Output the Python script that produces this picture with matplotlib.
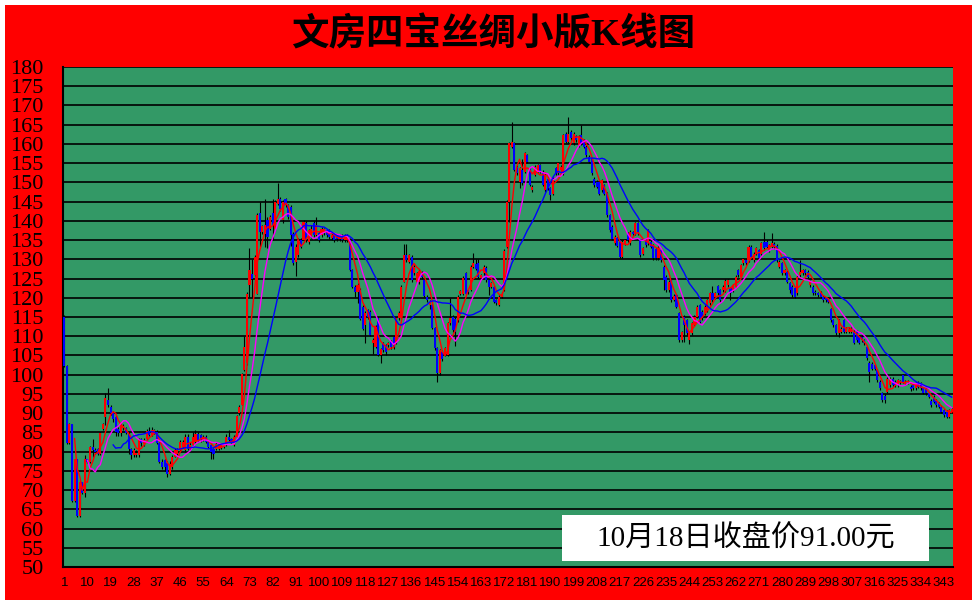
import numpy as np
import pandas as pd
import matplotlib.pyplot as plt
from matplotlib.patches import Rectangle

# Daily prices (346 trading days)
opens = [
    115, 102.3, 82.3, 87.2, 67.2, 78, 63.3, 72.2, 69.3, 78,
    77.4, 81.3, 80.5, 80.8, 79.3, 85.8, 88.9, 93.3, 91.7, 90,
    89, 85.8, 84.8, 86.1, 86.2, 84.7, 80.6, 79.1, 79.1, 79,
    83.2, 81.9, 83.3, 85.3, 84.3, 84.7, 85, 82.2, 77.4, 77.8,
    77, 74.3, 76.1, 78.7, 79.5, 80.4, 81.3, 80.4, 83.9, 80.8,
    81.7, 82.6, 84.7, 84.2, 83, 83.9, 82.6, 81.7, 80.8, 80.8,
    80.8, 81.1, 81.3, 81.7, 83.9, 83.2, 81.7, 83.9, 90, 92.1,
    101.2, 103, 123.3, 126.1, 125.9, 121.1, 142, 137.2, 136.7, 140.2,
    138, 142, 138, 144.5, 145.8, 140.2, 145.6, 144.1, 143.7, 136.6,
    129.4, 131.1, 135, 135, 139.4, 134.6, 136, 139.4, 136.3, 136.8,
    136.3, 136.8, 137.6, 137.6, 135.5, 136.3, 136, 135.2, 136, 135,
    135, 135, 127.2, 122.9, 121.6, 122, 117.7, 112.9, 116.8, 116.4,
    108.2, 107.3, 114.7, 105.1, 108.2, 107.7, 107.7, 108.6, 109.7, 108.2,
    114.7, 114.7, 124.2, 131.1, 129.4, 130.7, 126.4, 124.2, 124, 126.5,
    124.6, 120.3, 118, 118.1, 112.1, 106.9, 100.4, 106, 105.1, 105.1,
    113.4, 115.1, 114.5, 114.2, 121, 121.1, 126.4, 122, 122, 128.1,
    128.7, 129, 125.1, 126.4, 127.8, 124.6, 122.9, 122.9, 119.4, 118.1,
    120.3, 122, 133.3, 145, 159.3, 160.2, 154, 150.2, 153.2, 152.8,
    157.1, 153.7, 148, 152, 153, 154.5, 152.8, 148, 151, 148.5,
    147, 153.7, 152.4, 153.1, 152.4, 162.7, 160.6, 163.2, 160.2, 162,
    159.7, 162.3, 161, 159.3, 156.7, 156, 151, 150.2, 150.2, 148,
    149.3, 147.2, 141.5, 138.5, 134.2, 135.5, 135, 130.7, 134, 136.8,
    134.2, 137, 136.8, 139.4, 135, 131.5, 135, 134.2, 134.6, 133.7,
    132.6, 130.3, 132.4, 128.1, 125.5, 122, 124.6, 119.5, 120.7, 116,
    109, 115, 114.2, 109, 110.8, 113, 115.1, 118.1, 116.4, 116,
    116.8, 118.6, 121.2, 120.1, 123, 122, 122, 122, 123.3, 122.5,
    122, 122.9, 127.2, 125.5, 129, 129.8, 129.8, 133.3, 129.8, 131.5,
    132.4, 131.5, 134.6, 134.6, 132.4, 133.3, 134, 133.5, 128.1, 129,
    126.4, 126.8, 123.8, 122.9, 122.5, 121.2, 125.9, 126.4, 127.2, 126.8,
    123.3, 122.9, 121.6, 121.2, 121.3, 120.3, 119.9, 119.9, 117, 114.2,
    112.9, 110.8, 111.2, 114.2, 111.2, 111.2, 111.2, 111.2, 111.2, 109.9,
    109.9, 109, 107.1, 103.1, 102.9, 102.5, 101.2, 98.2, 95.2, 94.5,
    95.6, 97.3, 99, 98.2, 97.3, 98, 99.9, 97.6, 98, 96.9,
    97.3, 96.5, 97.9, 97.8, 96.5, 96.5, 95.2, 93.2, 94.3, 93.2,
    92.6, 91.7, 90.8, 90.4, 89.1, 90.4,
]
closes = [
    102.3, 82.3, 87.2, 67.2, 78, 63.3, 72.2, 69.3, 78, 77.4,
    81.3, 80.5, 80, 79.3, 84.8, 87.2, 93.9, 92.2, 90, 88.5,
    85.2, 84.8, 87, 86.6, 84.8, 80.6, 79.1, 80.4, 79.7, 83,
    82.2, 83, 85.4, 84.3, 85.6, 85.6, 82.2, 77.4, 76.1, 76.1,
    74.3, 76.9, 78.7, 80.4, 80.4, 82.6, 82.6, 83.9, 80.8, 81.7,
    83.9, 84.7, 83, 83, 83.9, 82.6, 81.3, 80, 79.5, 82.1,
    82, 81.7, 81.7, 83.9, 83, 82.6, 83.9, 89.3, 91.7, 100.2,
    107.3, 121.1, 127.2, 125, 130.7, 141.5, 137.2, 138.6, 138.9, 135.9,
    141.1, 138.9, 145, 145.8, 143.2, 145, 144.1, 141.1, 136.3, 129.1,
    133.3, 135, 133.3, 139.8, 135, 137.6, 138, 136.3, 138.9, 135,
    138, 137.8, 136.3, 135.9, 136.3, 135, 135.2, 136, 135, 136,
    136, 127.2, 122.9, 121.6, 123.3, 114.6, 112, 116, 115, 110.3,
    109.1, 112.5, 105.1, 106.6, 106.4, 106, 108.2, 107.3, 107.3, 114.7,
    116, 122.9, 131.1, 129.8, 131.1, 124.6, 128, 126.4, 127, 125.5,
    120.5, 119.4, 119, 112.1, 106.9, 100.4, 106.4, 104, 106.9, 113.4,
    114.7, 111.6, 111, 120.3, 121.7, 125.2, 121.1, 121.4, 128.1, 129,
    127.6, 125.5, 125.8, 128.1, 124.6, 122.9, 123.8, 119, 118.6, 120.3,
    121.1, 132.2, 145, 160.2, 160.6, 153.2, 152.4, 153.7, 149.8, 157.6,
    155.4, 149.3, 148.9, 154.1, 154.5, 152.8, 149.3, 151.9, 148.5, 146.7,
    151, 152.4, 155, 154, 162.3, 160.6, 162.7, 161.5, 162.7, 161,
    161.9, 160.2, 159.3, 157.1, 155.4, 152.4, 149.3, 148.9, 147.1, 150.6,
    147.1, 141.5, 137.6, 135.4, 135.9, 133.5, 130.7, 134.6, 135, 135,
    137.2, 136.5, 139.4, 136.8, 131.1, 132.9, 133.7, 137.6, 133.3, 130.3,
    130.3, 133, 129.8, 124.6, 122, 124.2, 119.4, 120.5, 117.7, 109,
    111, 112.9, 110.8, 110.8, 113.4, 115, 117.7, 113.8, 114.7, 117.7,
    119.4, 121.2, 119.4, 121.2, 121.2, 119.4, 122.9, 124.4, 124.6, 121.2,
    123.3, 125.5, 125.9, 128.5, 130, 129, 133.3, 130.7, 131.5, 132.9,
    130.3, 134.2, 132.9, 133.3, 133.7, 134.2, 133.2, 129.8, 129.4, 126.4,
    127.2, 124.2, 122, 120.7, 120.3, 125.5, 126.8, 127.2, 126.4, 125.5,
    124.2, 121.2, 121.2, 120.7, 120.3, 119.4, 119.4, 119, 114.2, 112.9,
    110.8, 114.2, 112, 111.2, 112, 112, 112, 108.3, 109, 108.3,
    109, 108.2, 104.3, 100.8, 101.6, 101.6, 98.6, 96.5, 93.4, 93.4,
    99, 99, 97.3, 97.3, 98.6, 98.2, 98.2, 98.2, 98.2, 96.2,
    96.5, 97.8, 96.9, 96.5, 95.3, 95.2, 94.3, 92.1, 93, 92.1,
    91.7, 90.4, 89.5, 89.1, 90.8, 91,
]
highs = [
    115.5, 102.5, 87.5, 87.2, 78, 78, 72.5, 72.2, 79, 78.2,
    81.5, 83.2, 81, 81, 85, 87.5, 95.2, 96.5, 92, 90.5,
    89.5, 86.5, 87.5, 87.3, 86.5, 85, 81, 81, 80.5, 83.5,
    83.5, 83.5, 86, 86.5, 86.5, 86, 85.5, 82.5, 78, 78,
    77.5, 77.5, 79, 81, 81, 83, 83, 84.5, 84.5, 82.5,
    85.2, 85.5, 85, 84.5, 84.3, 84.2, 83, 82, 81, 82.5,
    82.3, 82, 82, 84.5, 85.5, 83.5, 84.2, 89.5, 92, 100.5,
    110, 121.5, 133, 130, 131, 142, 145, 139, 145.8, 141,
    141.5, 145.8, 145.5, 149.9, 146.2, 145.5, 146, 144.5, 144, 137,
    134, 135.5, 135.5, 140.2, 140, 138, 139, 140, 141, 137.2,
    138.5, 138.2, 138, 138, 136.8, 136.8, 136.5, 136.5, 136.5, 136.5,
    136.5, 135.5, 127.5, 123.2, 123.8, 122.5, 118, 116.5, 117.2, 116.8,
    109.5, 113, 115, 107, 108.6, 108, 108.6, 109, 110, 115,
    116.5, 123.3, 134, 134, 131.5, 131.2, 128.5, 126.8, 127.5, 127,
    125, 120.8, 119.4, 118.5, 112.5, 107.2, 106.8, 106.5, 107.3, 113.8,
    119.9, 115.5, 115, 120.6, 122, 125.6, 126.8, 122.3, 128.5, 131.6,
    130, 130, 126.2, 128.5, 128.2, 125, 124.2, 123.2, 119.8, 120.6,
    121.5, 132.6, 145.3, 160.5, 165.8, 160.6, 154.4, 154, 156, 158,
    157.5, 154, 149.3, 154.5, 154.9, 154.9, 153.2, 152.4, 151.4, 148.9,
    151.4, 154.1, 155.4, 154.4, 162.7, 163.1, 167, 163.6, 163.1, 162.4,
    162.3, 164.9, 161.4, 159.7, 157.1, 156.4, 151.4, 150.6, 150.6, 151,
    149.7, 147.6, 141.9, 138.9, 136.3, 135.9, 135.4, 135, 135.4, 137.2,
    137.6, 137.4, 139.8, 139.8, 135.4, 133.3, 135.4, 138, 135, 134.1,
    133, 133.4, 132.8, 128.5, 125.9, 124.6, 125, 120.9, 121.1, 116.4,
    111.4, 115.4, 114.6, 111.2, 113.8, 115.4, 118.1, 118.5, 116.8, 118.1,
    119.8, 121.6, 123, 121.6, 123.4, 122.4, 123.3, 124.8, 125, 122.9,
    123.7, 125.9, 127.6, 128.9, 130.4, 130.2, 133.7, 133.7, 131.9, 133.3,
    132.8, 134.6, 137.2, 135, 134.1, 136.8, 134.4, 133.9, 129.8, 129.4,
    127.6, 127.2, 124.2, 123.3, 122.9, 125.9, 129.8, 127.6, 127.6, 127.2,
    124.6, 123.3, 122, 121.6, 121.7, 120.7, 120.3, 120.3, 117.4, 114.6,
    113.3, 114.6, 112.4, 114.6, 112.4, 112.4, 112.4, 111.6, 111.6, 110.3,
    110.3, 109.4, 107.5, 103.5, 103.3, 102.9, 101.6, 98.6, 95.6, 94.9,
    99.4, 99.4, 99.4, 98.6, 99, 98.6, 100.3, 98.6, 98.6, 97.3,
    97.7, 98.2, 98.3, 98.2, 96.9, 96.9, 95.6, 93.6, 94.7, 93.6,
    93, 92.1, 91.2, 90.8, 91.2, 91.4,
]
lows = [
    102, 82, 82, 67, 67, 63, 63, 69, 68.3, 77,
    77, 78.7, 79.5, 79, 79, 85.5, 87, 91.5, 89.5, 87.8,
    84, 84, 84, 85.5, 84.5, 79.5, 78, 78.5, 78.5, 78.5,
    81.5, 81.5, 83, 84, 84, 84.5, 82, 77, 75.5, 75,
    73.5, 74, 75.5, 78.5, 79, 80, 81, 80, 80.5, 80.5,
    81.5, 82, 82.5, 82.5, 82.7, 82.2, 81, 78.2, 78.2, 80.5,
    80.5, 80.8, 81, 81.5, 82.7, 82.3, 81.5, 83.7, 89.5, 92,
    101, 102.5, 120.3, 120.3, 125.5, 121, 133.3, 136.5, 133.3, 133,
    137.5, 135, 137.5, 144, 142.5, 139.5, 143.5, 140.5, 133.5, 128.5,
    125.7, 130.5, 133, 134.5, 134.5, 134, 135.5, 135.8, 136, 134.5,
    135.8, 136.3, 135.8, 135.4, 135, 134.6, 134.7, 134.8, 134.6, 134.6,
    134.6, 127, 122.5, 120.3, 118.6, 114.2, 111.5, 108.2, 114.5, 110,
    105.4, 107, 104.8, 103.1, 106, 105.1, 107.3, 106.8, 106.8, 108,
    114.3, 114.5, 124, 129.3, 129, 124.2, 126, 123.8, 123.5, 125,
    120.2, 119, 117.2, 111.8, 106.5, 98.2, 100, 103.5, 104.8, 104.8,
    113, 111.2, 107.5, 113.8, 120.7, 120.8, 120.8, 121, 121.7, 127.8,
    127.2, 125.2, 124.8, 126, 124.2, 120.7, 122.6, 118.6, 118.2, 117.8,
    120, 121.7, 133, 139.8, 159, 152.9, 152, 148.5, 149.4, 152.5,
    155, 149, 147.6, 151.6, 152.6, 152.4, 149, 147.6, 148.1, 145.4,
    146.6, 152, 152, 152.7, 152, 160.2, 160.2, 161.1, 159.8, 160.6,
    159.3, 159.8, 158.9, 156.7, 155, 152, 148.9, 148.5, 146.7, 147.6,
    146.7, 141.1, 137.2, 135, 133.8, 133.1, 130.3, 130.3, 133.6, 134.6,
    133.8, 136.1, 136.4, 136.4, 130.7, 131.1, 133.3, 133.8, 132.9, 129.9,
    129.9, 129.9, 129.4, 122, 121.6, 121.6, 119, 119.1, 117.3, 108.6,
    108.6, 108.6, 110.4, 108, 110.4, 112.6, 114.7, 113.4, 114.3, 115.6,
    116.4, 118.2, 119, 119.7, 120.8, 119, 121.6, 121.6, 122.9, 119.4,
    121.6, 122.5, 125.5, 125.1, 128.6, 128.6, 129.4, 130.3, 129.4, 131.1,
    129.9, 131.1, 132.5, 132.9, 132, 132.9, 132.8, 129.4, 127.7, 126,
    126, 123.8, 121.2, 120.3, 119.9, 120.8, 125.5, 126, 126, 125.1,
    122.9, 120.8, 120.8, 120.3, 119.9, 119, 119, 118.6, 113.8, 112.5,
    110.4, 109.9, 110.8, 110.8, 110.8, 110.8, 110.8, 107.9, 108.6, 107.9,
    108.6, 107.8, 103.9, 98.2, 101.2, 101.2, 98.2, 96.1, 93, 92.6,
    95.2, 96.9, 96.9, 96.9, 96.9, 97.6, 97.8, 97.2, 97.6, 95.8,
    96.1, 96.1, 96.5, 96.1, 94.9, 94.8, 93.9, 91.7, 92.6, 91.7,
    91.3, 90, 89.1, 88.7, 88.7, 90,
]

title = "文房四宝丝绸小版K线图"
note = "10月18日收盘价91.00元"
xtick_days = list(range(1, 344, 9))

n = min(len(opens), len(closes), len(highs), len(lows))
o = np.array(opens[:n], dtype=float)
c = np.array(closes[:n], dtype=float)
h = np.array(highs[:n], dtype=float)
l = np.array(lows[:n], dtype=float)
x = np.arange(1, n + 1)

fig = plt.figure(figsize=(9.77, 6), dpi=100, facecolor="white")
# red frame with a thin white margin
fig.add_artist(Rectangle((5 / 977, 0), 967 / 977, 595 / 600,
                         transform=fig.transFigure, facecolor="#FF0000",
                         edgecolor="none", zorder=0))

ax = fig.add_axes([63 / 977, 33 / 600, 890 / 977, 500 / 600])
ax.set_facecolor("#339966")
ax.set_xlim(0.5, 346.5)
ax.set_ylim(50, 180)

# horizontal grid
for v in range(50, 181, 5):
    ax.axhline(v, color="black", lw=1.2, zorder=1)

# candles
ax.vlines(x, l, h, color="black", lw=0.8, zorder=2)
up = c >= o
bottoms = np.minimum(o, c)
heights = np.maximum(np.abs(c - o), 0.35)
colors = np.where(up, "#FF0000", "#0000FF")
ax.bar(x, heights, bottom=bottoms, width=0.8, color=colors, linewidth=0, zorder=3)

# moving averages
s = pd.Series(c)
ax.plot(x, s.rolling(5).mean(), color="#FF0000", lw=1.0, zorder=4)
ax.plot(x, s.rolling(10).mean(), color="#FF00FF", lw=1.0, zorder=4)
ax.plot(x, s.rolling(20).mean(), color="#0000FF", lw=1.0, zorder=4)

ax.set_yticks(range(50, 181, 5))
ax.set_yticklabels([str(v) for v in range(50, 181, 5)],
                   family=["Liberation Serif", "DejaVu Serif"], fontsize=16)
ax.set_xticks(xtick_days)
ax.set_xticklabels([str(d) for d in xtick_days],
                   family=["Liberation Sans Narrow", "Liberation Sans", "DejaVu Sans"], fontsize=9.5)
ax.tick_params(axis="y", length=0, pad=14)
ax.tick_params(axis="x", length=0, pad=7)
for side in ["top", "right"]:
    ax.spines[side].set_visible(False)
for side in ["left", "bottom"]:
    ax.spines[side].set_color("black")
    ax.spines[side].set_linewidth(1.5)

fig.text(493 / 977, 1 - 35 / 600, title, ha="center", va="center",
         fontsize=27, fontweight="bold", color="black",
         family=["Liberation Serif", "Noto Sans CJK SC", "DejaVu Sans"])

# closing price note
fig.add_artist(Rectangle((562 / 977, 1 - 561 / 600), 367 / 977, 46 / 600,
                         transform=fig.transFigure, facecolor="white",
                         edgecolor="none", zorder=5))
fig.text(746 / 977, 1 - 539 / 600, note, ha="center", va="center",
         fontsize=21, color="black", zorder=6,
         family=["Liberation Serif", "Noto Sans CJK SC", "DejaVu Sans"])

fig.savefig("out.png", dpi=100, facecolor="white")
